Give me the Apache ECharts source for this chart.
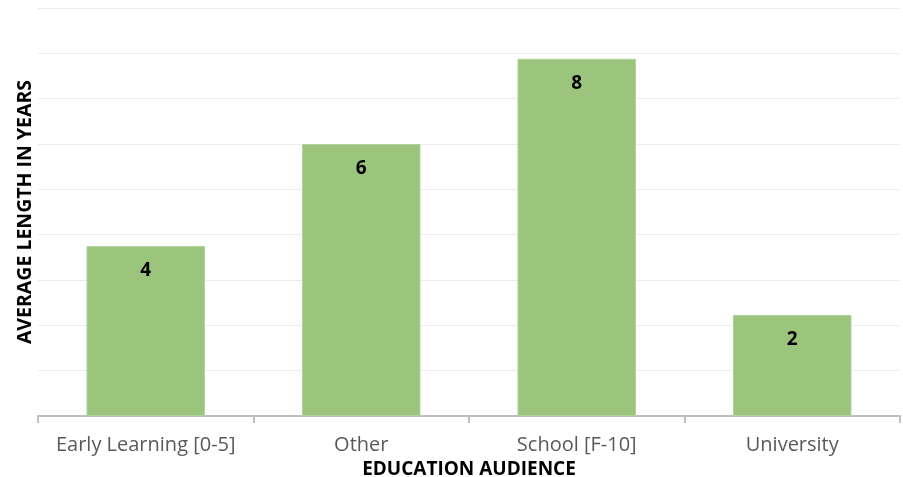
<!DOCTYPE html>
<html>
<head>
<meta charset="utf-8">
<script src="https://cdn.jsdelivr.net/npm/echarts@6/dist/echarts.min.js"></script>
<style>
  html, body { margin: 0; padding: 0; background: #fff; }
  #main { width: 903px; height: 477px; }
</style>
</head>
<body>
<div id="main"></div>
<script>
// categories and average length (years)
var categories = ['Early Learning [0-5]', 'Other', 'School [F-10]', 'University'];
var avgYears = [3.75, 6.0, 7.88, 2.23];

var chart = echarts.init(document.getElementById('main'), null, { renderer: 'canvas' });

var option = {
  animation: false,
  grid: { left: 38, right: 3, top: 8, bottom: 61, outerBoundsMode: 'none' },
  xAxis: {
    type: 'category',
    data: categories,
    name: 'EDUCATION AUDIENCE',
    nameLocation: 'middle',
    nameGap: 42,
    nameTextStyle: { fontFamily: 'Open Sans', fontWeight: 'bold', fontSize: 19, color: '#000' },
    axisLine: { lineStyle: { color: '#bfbfbf', width: 2 } },
    axisTick: { show: true, interval: 0, alignWithLabel: false, length: 7, lineStyle: { color: '#bfbfbf', width: 2 } },
    axisLabel: { interval: 0, fontFamily: 'Open Sans', fontSize: 20, color: '#595959', margin: 19 }
  },
  yAxis: {
    type: 'value',
    min: 0,
    max: 9,
    interval: 1,
    name: 'AVERAGE LENGTH IN YEARS',
    nameLocation: 'middle',
    nameGap: 3,
    nameRotate: 90,
    nameTextStyle: { fontFamily: 'Open Sans', fontWeight: 'bold', fontSize: 19.5, color: '#000' },
    axisLine: { show: false },
    axisTick: { show: false },
    axisLabel: { show: false },
    splitLine: { lineStyle: { color: '#ececec', width: 1 } }
  },
  series: [{
    type: 'bar',
    data: avgYears,
    barWidth: '55%',
    itemStyle: { color: '#9bc47d', borderColor: '#b3d49c', borderWidth: 1 },
    label: {
      show: true,
      position: 'insideTop',
      distance: 15,
      fontFamily: 'Open Sans',
      fontWeight: 'bold',
      fontSize: 19,
      color: '#000',
      formatter: function (p) { return Math.round(p.value); }
    }
  }]
};

chart.setOption(option);
</script>
</body>
</html>
